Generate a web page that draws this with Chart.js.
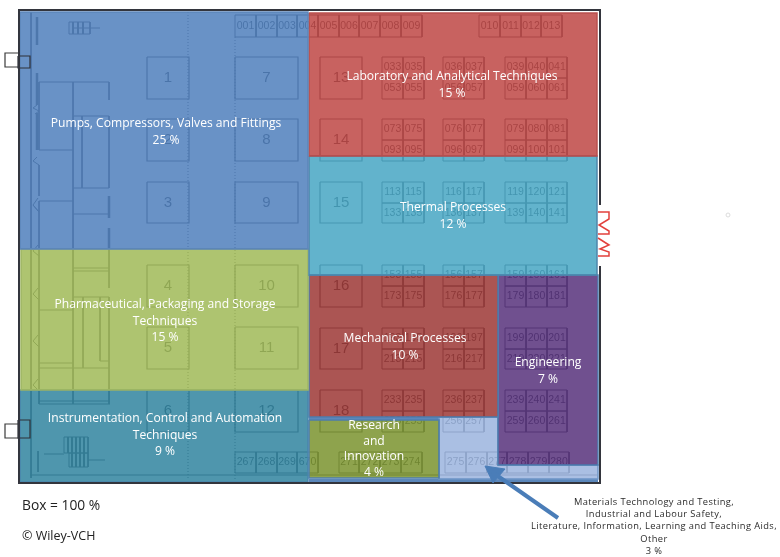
<!DOCTYPE html>
<html>
<head>
<meta charset="utf-8">
<title>Exhibition floor plan shares</title>
<script src="https://cdn.jsdelivr.net/npm/chart.js@4/dist/chart.umd.min.js"></script>
<style>
  html, body { margin: 0; padding: 0; background: #fff; }
  canvas { display: block; }
</style>
</head>
<body>
<canvas id="chart" width="780" height="557"></canvas>
<script>
// categories and their share of the box
const regionNames = [
  ["Pumps, Compressors, Valves and Fittings"],
  ["Laboratory and Analytical Techniques"],
  ["Thermal Processes"],
  ["Pharmaceutical, Packaging and Storage", "Techniques"],
  ["Instrumentation, Control and Automation", "Techniques"],
  ["Mechanical Processes"],
  ["Engineering"],
  ["Research", "and", "Innovation"],
];
const regionShares = [25, 15, 12, 15, 9, 10, 7, 4];

// outline of each cell on the floor plan, [x, y] corners
const regionOutlines = [
  [[20, 12], [308, 12], [308, 249], [20, 249]],
  [[309, 13], [597, 13], [597, 156], [309, 156]],
  [[309, 156], [597, 156], [597, 275], [309, 275]],
  [[21, 249], [308, 249], [308, 390], [21, 390]],
  [[20, 390], [308, 390], [308, 482], [20, 482]],
  [[309, 275], [498, 275], [498, 417], [309, 417]],
  [[498, 275], [598, 275], [598, 465], [498, 465]],
  [[309, 420], [439, 420], [439, 478], [309, 478]],
];
const otherOutline = [[439, 417], [498, 417], [498, 465], [598, 465], [598, 479], [439, 479]];
const otherName = [
  "Materials Technology and Testing,",
  "Industrial and Labour Safety,",
  "Literature, Information, Learning and Teaching Aids,",
  "Other",
];
const otherShare = 3;
// blue seams left between the small cells at the bottom right
const seamLines = [[[309, 418.5], [439, 418.5]], [[309, 480.5], [598, 480.5]]];

// where the label of each cell sits
const labelX = [166, 452, 453, 165, 165, 405, 548, 374];
const labelY = [124, 77, 208, 305, 419, 339, 363, 426];
const labelStep = [17, 17, 17, 16.5, 16.5, 17, 17, 15.5];

const regionColors = ["#487aba", "#bc403d", "#40a2c1", "#9cb751", "#287f9b", "#99302d", "#512a76", "#758f26"];
const regionBorders = ["#5d86bb", "#b9504f", "#4d86ac", "#9fb766", "#4a85ad", "#4f7fb0", "#4f7fb0", "#4f7fb0"];
const otherColor = "#97b1dd";

// numbered stands
const standNumbers = ["1", "2", "3", "4", "5", "6", "7", "8", "9", "10", "11", "12", "13", "14", "15", "16", "17", "18"];
const standLeft = [147, 147, 147, 147, 147, 147, 235, 235, 235, 235, 235, 235, 320, 320, 320, 320, 320, 320];
const standTop = [57, 119, 182, 265, 327, 390, 57, 119, 182, 265, 327, 390, 57, 119, 182, 265, 328, 390];
const standRight = [189, 189, 189, 189, 189, 189, 298, 298, 298, 298, 298, 298, 362, 362, 362, 362, 362, 362];
const standBottom = [99, 161, 223, 307, 369, 432, 99, 161, 223, 307, 369, 432, 99, 161, 223, 307, 369, 432];

// small booths in the strips along the top and the bottom
const stripTop = [15, 15, 452, 452, 452];
const stripBottom = [37, 37, 473, 473, 473];
const stripEdges = [
  [235, 256, 277, 297, 318, 339, 359, 380, 401, 422],
  [479, 500, 521, 541, 562],
  [235, 256, 277, 297, 318],
  [339, 359, 380, 401, 422],
  [445, 466, 487, 507, 528, 549, 569],
];
const stripLabels = [
  ["001", "002", "003", "004", "005", "006", "007", "008", "009"],
  ["010", "011", "012", "013"],
  ["267", "268", "269", "670"],
  ["271", "272", "273", "274"],
  ["275", "276", "277", "278", "279", "280"],
];

// small booths in the blocks of the hall
const blockColumns = [[382, 403, 424], [443, 464, 484], [505, 526, 547, 567]];
const blockRows = [[57, 78, 99], [119, 140, 161], [182, 203, 223], [265, 286, 307], [328, 349, 369], [390, 411, 432]];
const blockLabels = [
  [["033", "035", "053", "055"], ["036", "037", "056", "057"], ["039", "040", "041", "059", "060", "061"]],
  [["073", "075", "093", "095"], ["076", "077", "096", "097"], ["079", "080", "081", "099", "100", "101"]],
  [["113", "115", "133", "135"], ["116", "117", "136", "137"], ["119", "120", "121", "139", "140", "141"]],
  [["153", "155", "173", "175"], ["156", "157", "176", "177"], ["159", "160", "161", "179", "180", "181"]],
  [["193", "195", "213", "215"], ["196", "197", "216", "217"], ["199", "200", "201", "219", "220", "221"]],
  [["233", "235", "253", "255"], ["236", "237", "256", "257"], ["239", "240", "241", "259", "260", "261"]],
];

// hall walls and installations on the left side
const planLines = [
  [[31, 12], [31, 478]],
  [[39, 82], [109, 82]], [[109, 82], [109, 100]], [[73, 82], [73, 404]],
  [[39, 82], [39, 150]], [[39, 150], [73, 150]], [[39, 165], [39, 196]], [[39, 201], [73, 201]], [[39, 201], [39, 404]],
  [[73, 116], [109, 116]], [[109, 116], [109, 188]], [[82, 116], [82, 188]], [[73, 188], [109, 188]],
  [[73, 214], [109, 214]], [[73, 268], [109, 268]], [[73, 271], [109, 271]], [[109, 245], [109, 288]],
  [[73, 297], [109, 297]], [[83, 297], [83, 368]], [[100, 297], [100, 361]], [[100, 361], [109, 361]], [[109, 297], [109, 404]],
  [[39, 310], [73, 310]], [[39, 363], [73, 363]], [[39, 368], [109, 368]],
  [[39, 401], [110, 401]], [[39, 404], [110, 404]],
  [[44, 454], [64, 454]], [[88, 460], [105, 460]], [[38, 451], [38, 472]],
  [[30, 475], [597, 475]],
  [[72, 28], [100, 28]],
];
const planThickLines = [
  [[37, 17], [37, 45]], [[37, 73], [37, 105]], [[37, 113], [37, 150]],
  [[109, 196], [109, 218]], [[109, 228], [109, 248]],
];
const planZigzags = [
  [[37, 105], [33, 108], [39, 111], [35, 114]],
  [[37, 157], [33, 161], [39, 165]],
  [[38, 198], [33, 205], [39, 212], [33, 205]],
  [[38, 245], [33, 251], [39, 256]],
  [[38, 288], [33, 294], [39, 300]],
  [[38, 335], [33, 341], [39, 347]],
  [[38, 379], [33, 385], [39, 391]],
];
const planDevices = [
  [[69, 22], [90, 22], [90, 34], [69, 34]],
  [[64, 437], [88, 437], [88, 453], [64, 453]],
  [[69, 453], [88, 453], [88, 467], [69, 467]],
];
const deviceStripes = [
  [[73, 22], [73, 34]], [[78, 22], [78, 34]], [[83, 22], [83, 34]],
  [[68, 437], [68, 453]], [[72, 437], [72, 467]], [[76, 437], [76, 467]], [[80, 437], [80, 467]], [[84, 437], [84, 467]],
];
const dottedLines = [[[188, 12], [188, 480]], [[235, 37], [235, 480]]];

// things outside the coloured box
const doorBoxes = [
  [[18, 56], [30, 56], [30, 68], [18, 68]],
  [[18, 420], [30, 420], [30, 438], [18, 438]],
];
const doorTabs = [
  [[18, 53], [5, 53], [5, 67], [18, 67]],
  [[18, 424], [5, 424], [5, 438], [18, 438]],
];
const outerWalls = [
  [[600, 205], [600, 10], [19, 10], [19, 483], [600, 483], [600, 266]],
];
const redCoil = [
  [[598, 212], [609, 212], [609, 219], [599, 225], [609, 231], [609, 234], [598, 234]],
  [[598, 238], [609, 245], [600, 249], [609, 252], [609, 256], [598, 256]],
];
const arrowShaft = [[558, 518], [492, 472]];
const arrowHead = [[485, 466], [505, 469], [493, 483]];
const faintDot = [[728, 215]];

const otherNote = { x: 654, y: 502, step: 12.3 };

function path(points, style) {
  return Object.assign({
    data: points.map((p) => ({ x: p[0], y: p[1] })),
    pointRadius: 0,
    tension: 0,
    fill: false,
    borderWidth: 1,
    borderColor: "#666a72",
  }, style);
}

function closed(points) {
  return points.concat([points[0]]);
}

function box(l, t, r, b) {
  return [[l, t], [r, t], [r, b], [l, b], [l, t]];
}

const datasets = [];
const planTexts = [];

// floor plan goes underneath everything
standNumbers.forEach((n, i) => {
  datasets.push(path(box(standLeft[i], standTop[i], standRight[i], standBottom[i]), { order: 30, borderWidth: 1.2 }));
  planTexts.push({ text: n, x: (standLeft[i] + standRight[i]) / 2, y: (standTop[i] + standBottom[i]) / 2, size: 15 });
});

stripLabels.forEach((labels, s) => {
  labels.forEach((lab, i) => {
    const l = stripEdges[s][i];
    const r = stripEdges[s][i + 1];
    datasets.push(path(box(l, stripTop[s], r, stripBottom[s]), { order: 30 }));
    planTexts.push({ text: lab, x: (l + r) / 2, y: (stripTop[s] + stripBottom[s]) / 2, size: 10.5 });
  });
});

blockRows.forEach((rows, r) => {
  blockColumns.forEach((cols, c) => {
    const n = cols.length - 1;
    blockLabels[r][c].forEach((lab, k) => {
      const col = k % n;
      const row = Math.floor(k / n);
      datasets.push(path(box(cols[col], rows[row], cols[col + 1], rows[row + 1]), { order: 30 }));
      planTexts.push({
        text: lab,
        x: (cols[col] + cols[col + 1]) / 2,
        y: (rows[row] + rows[row + 1]) / 2,
        size: 10.5,
      });
    });
  });
});

planLines.forEach((p) => datasets.push(path(p, { order: 30 })));
planThickLines.forEach((p) => datasets.push(path(p, { order: 30, borderWidth: 2.5 })));
planZigzags.forEach((p) => datasets.push(path(p, { order: 30 })));
planDevices.forEach((p) => datasets.push(path(closed(p), { order: 30 })));
deviceStripes.forEach((p) => datasets.push(path(p, { order: 30, borderWidth: 2 })));
dottedLines.forEach((p) => datasets.push(path(p, { order: 30, borderDash: [1, 2] })));

seamLines.forEach((p) => datasets.push(path(p, { order: 25, borderColor: "#5b87bb", borderWidth: 3.5 })));

// the coloured cells
regionOutlines.forEach((p, i) => {
  datasets.push(path(closed(p), {
    order: 20,
    fill: "shape",
    backgroundColor: regionColors[i] + "d1",
    borderColor: regionBorders[i],
    borderWidth: 1.5,
  }));
});
datasets.push(path(closed(otherOutline), {
  order: 21,
  fill: "shape",
  backgroundColor: otherColor + "d1",
  borderColor: "#6f97c8",
  borderWidth: 1.5,
}));

outerWalls.forEach((p) => datasets.push(path(p, { order: 10, borderWidth: 2, borderColor: "#33353d" })));
doorBoxes.forEach((p) => datasets.push(path(closed(p), { order: 10, borderColor: "#2f3138", borderWidth: 1.2 })));
doorTabs.forEach((p) => datasets.push(path(p, { order: 10, borderColor: "#3a3a3a", borderWidth: 1.2 })));
redCoil.forEach((p) => datasets.push(path(p, { order: 10, borderColor: "#e2403c", borderWidth: 1.5 })));
datasets.push(path(arrowShaft, { order: 5, borderColor: "#4a7db8", borderWidth: 4 }));
datasets.push(path(closed(arrowHead), { order: 5, fill: "shape", backgroundColor: "#4a7db8", borderColor: "#4a7db8" }));
datasets.push(path(faintDot, { order: 5, pointRadius: 2, pointBackgroundColor: "#fff", pointBorderColor: "#dcdcdc", pointBorderWidth: 1, showLine: false }));

const textPlugin = {
  id: "planText",
  beforeDatasetsDraw(chart) {
    const { ctx, scales } = chart;
    ctx.save();
    ctx.textAlign = "center";
    ctx.textBaseline = "middle";
    ctx.fillStyle = "#565a62";
    planTexts.forEach((t) => {
      ctx.font = `${t.size}px "Liberation Sans"`;
      ctx.fillText(t.text, scales.x.getPixelForValue(t.x), scales.y.getPixelForValue(t.y));
    });
    ctx.restore();
  },
  afterDatasetsDraw(chart) {
    const { ctx, scales } = chart;
    const px = (v) => scales.x.getPixelForValue(v);
    const py = (v) => scales.y.getPixelForValue(v);
    ctx.save();
    ctx.textAlign = "center";
    ctx.textBaseline = "middle";
    ctx.fillStyle = "#ffffff";
    ctx.font = '12.1px "Open Sans"';
    regionNames.forEach((lines, i) => {
      lines.concat([regionShares[i] + " %"]).forEach((line, k) => {
        ctx.fillText(line, px(labelX[i]), py(labelY[i] + k * labelStep[i]));
      });
    });

    ctx.fillStyle = "#2b2b2b";
    ctx.font = '9.3px "Open Sans"';
    ctx.letterSpacing = "0.4px";
    otherName.concat([otherShare + " %"]).forEach((line, k) => {
      ctx.fillText(line, px(otherNote.x), py(otherNote.y + k * otherNote.step));
    });
    ctx.letterSpacing = "0px";

    ctx.textAlign = "left";
    ctx.font = '13.8px "Open Sans"';
    ctx.fillStyle = "#222";
    ctx.fillText("Box = 100 %", px(22), py(506));
    ctx.font = '12.5px "Open Sans"';
    ctx.fillText("© Wiley-VCH", px(22), py(536));
    ctx.restore();
  },
};

new Chart(document.getElementById("chart"), {
  type: "line",
  data: { datasets: datasets },
  plugins: [textPlugin],
  options: {
    responsive: false,
    animation: false,
    events: [],
    layout: { padding: 0, autoPadding: false },
    scales: {
      x: { type: "linear", display: false, min: 0, max: 780 },
      y: { type: "linear", display: false, min: 0, max: 557, reverse: true },
    },
    plugins: {
      legend: { display: false },
      tooltip: { enabled: false },
    },
  },
});
</script>
</body>
</html>
